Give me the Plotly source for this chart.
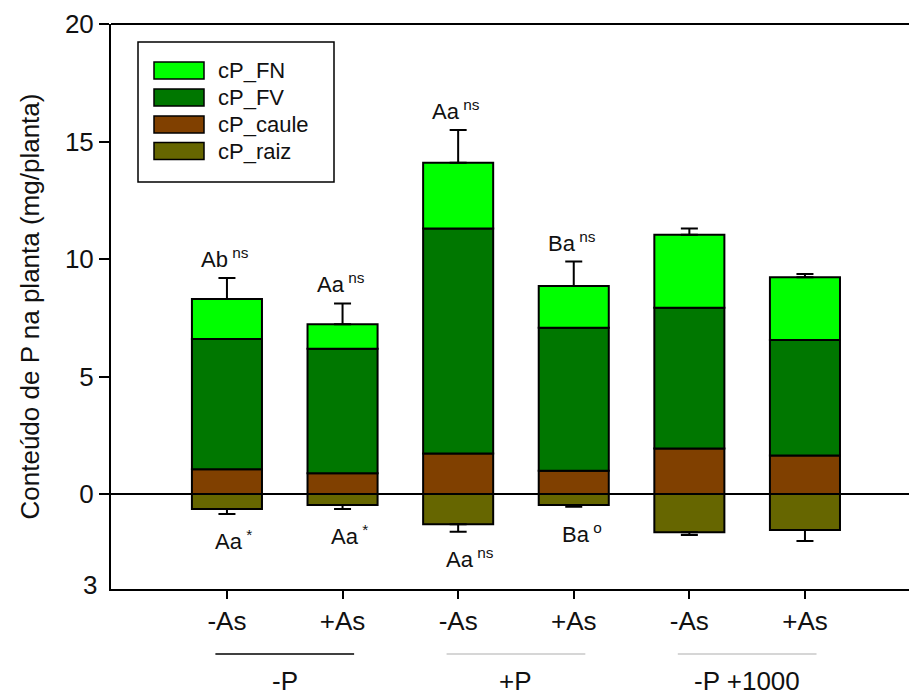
import plotly.graph_objects as go

# ---- data ----
categories = ["-As", "+As", "-As", "+As", "-As", "+As"]
groups = ["-P", "+P", "-P +1000"]
cP_FN = [1.70, 1.05, 2.80, 1.77, 3.10, 2.67]
cP_FV = [5.54, 5.30, 9.57, 6.09, 5.99, 4.91]
cP_caule = [1.06, 0.88, 1.73, 0.99, 1.94, 1.64]
cP_raiz = [-0.64, -0.47, -1.29, -0.47, -1.63, -1.53]
err_total = [0.89, 0.88, 1.39, 1.04, 0.27, 0.14]
err_raiz = [0.21, 0.17, 0.31, 0.07, 0.11, 0.47]
labels_top = ["Ab", "Aa", "Aa", "Ba", "", ""]
sup_top = ["ns", "ns", "ns", "ns", "", ""]
labels_bottom = ["Aa", "Aa", "Aa", "Ba", "", ""]
sup_bottom = ["*", "*", "ns", "o", "", ""]
y_tickvals = [0, 5, 10, 15, 20]
series_names = ["cP_FN", "cP_FV", "cP_caule", "cP_raiz"]
series_colors = ["#00FF00", "#007700", "#804000", "#666600"]

FONT = "Liberation Sans, Arial, sans-serif"
TXT = "#111111"

x = list(range(len(categories)))
fig = go.Figure()

line = dict(color="black", width=2)
fig.add_trace(go.Bar(x=x, y=cP_raiz, name="cP_raiz", marker=dict(color=series_colors[3], line=line),
                     error_y=dict(type="data", symmetric=False, array=[0] * 6, arrayminus=err_raiz,
                                  color="black", thickness=2, width=8.5)))
fig.add_trace(go.Bar(x=x, y=cP_caule, name="cP_caule", marker=dict(color=series_colors[2], line=line)))
fig.add_trace(go.Bar(x=x, y=cP_FV, name="cP_FV", marker=dict(color=series_colors[1], line=line)))
fig.add_trace(go.Bar(x=x, y=cP_FN, name="cP_FN", marker=dict(color=series_colors[0], line=line),
                     error_y=dict(type="data", symmetric=False, array=err_total, arrayminus=[0] * 6,
                                  color="black", thickness=2, width=8.5)))

totals = [a + b + c for a, b, c in zip(cP_caule, cP_FV, cP_FN)]

annotations = []
for i in x:
    if labels_top[i]:
        annotations.append(dict(x=i, y=totals[i] + err_total[i], xref="x", yref="y",
                                text=f"{labels_top[i]}<sup> {sup_top[i]}</sup>", showarrow=False,
                                xanchor="left", yanchor="bottom", xshift=-28, yshift=4,
                                font=dict(family=FONT, size=22, color=TXT)))
    if labels_bottom[i]:
        annotations.append(dict(x=i, y=cP_raiz[i] - err_raiz[i], xref="x", yref="y",
                                text=f"{labels_bottom[i]}<sup> {sup_bottom[i]}</sup>", showarrow=False,
                                xanchor="left", yanchor="top", xshift=-14, yshift=-10,
                                font=dict(family=FONT, size=22, color=TXT)))

# bottom y label "3"
annotations.append(dict(x=0, y=0, xref="paper", yref="paper", text="3", showarrow=False,
                        xanchor="right", yanchor="middle", xshift=-12, yshift=4,
                        font=dict(family=FONT, size=26, color=TXT)))

shapes = []
# group labels and lines under them
group_line_colors = ["black", "#c8c8c8", "#c8c8c8"]
for g, name in enumerate(groups):
    mid = 2 * g + 0.5
    shapes.append(dict(type="line", xref="x", yref="paper", x0=mid - 0.6, x1=mid + 0.6,
                       y0=-0.115, y1=-0.115, line=dict(color=group_line_colors[g], width=1.3)))
    annotations.append(dict(x=mid, y=-0.163, xref="x", yref="paper", text=name, showarrow=False,
                            xanchor="center", yanchor="middle",
                            font=dict(family=FONT, size=26, color=TXT)))

# zero line above bars and top frame line
shapes.append(dict(type="line", xref="paper", yref="y", x0=0, x1=1, y0=0, y1=0,
                   line=dict(color="black", width=2), layer="above"))
shapes.append(dict(type="line", xref="paper", yref="paper", x0=0, x1=1, y0=1, y1=1,
                   line=dict(color="black", width=2), layer="above"))

# custom legend box
W, H = 798.0, 565.0
def px(xp):
    return (xp - 111) / W
def py(yp):
    return (589 - yp) / H
shapes.append(dict(type="rect", xref="paper", yref="paper", x0=px(138), x1=px(334), y0=py(182), y1=py(42),
                   line=dict(color="black", width=1.5), fillcolor="white", layer="above"))
legend_order = [0, 1, 2, 3]
row_centers = [70.5, 97.5, 124.5, 151]
for k, idx in enumerate(legend_order):
    yc = row_centers[k]
    shapes.append(dict(type="rect", xref="paper", yref="paper", x0=px(154), x1=px(204),
                       y0=py(yc + 8.5), y1=py(yc - 8.5), fillcolor=series_colors[idx],
                       line=dict(color="black", width=1.5), layer="above"))
    annotations.append(dict(x=px(216), y=py(yc), xref="paper", yref="paper", text=series_names[idx],
                            showarrow=False, xanchor="left", yanchor="middle",
                            font=dict(family=FONT, size=22, color=TXT)))

fig.update_layout(
    width=909, height=695,
    margin=dict(l=111, r=0, t=24, b=106),
    barmode="relative",
    bargap=0.394,
    plot_bgcolor="white", paper_bgcolor="white",
    showlegend=False,
    font=dict(family=FONT, color=TXT),
    annotations=annotations,
    shapes=shapes,
    xaxis=dict(range=[-1.003, 5.9], tickmode="array", tickvals=x, ticktext=categories,
               showline=True, linecolor="black", linewidth=2, ticks="outside", ticklen=8,
               tickwidth=2, tickcolor="black", showgrid=False, zeroline=False,
               tickfont=dict(family=FONT, size=26, color=TXT)),
    yaxis=dict(range=[-4.04, 20], tickmode="array", tickvals=y_tickvals,
               ticktext=[str(v) for v in y_tickvals],
               showline=True, linecolor="black", linewidth=2, ticks="outside", ticklen=10,
               tickwidth=2, tickcolor="black", showgrid=False, zeroline=False,
               tickfont=dict(family=FONT, size=26, color=TXT),
               title=dict(text="Conteúdo de P na planta (mg/planta)", standoff=18,
                          font=dict(family=FONT, size=26, color=TXT))),
)

fig.write_html("out.html")
